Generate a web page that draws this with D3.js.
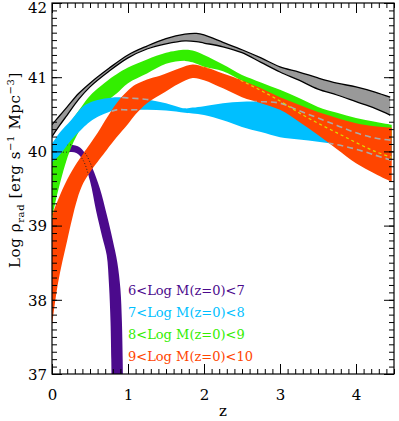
<!DOCTYPE html>
<html>
<head>
<meta charset="utf-8">
<script src="https://cdn.jsdelivr.net/npm/d3@7"></script>
<style>
  body { margin: 0; background: #fff; }
  text { font-family: "DejaVu Serif", serif; }
</style>
</head>
<body>
<div id="chart"></div>
<script>
// values (z, Log rho_rad)
const zGray  = [0, 0.1, 0.2, 0.35, 0.5, 0.75, 1.0, 1.25, 1.5, 1.75, 1.9, 2.0, 2.25, 2.5, 2.75, 3.0, 3.25, 3.5, 3.75, 4.0, 4.25, 4.45];
const grayHi = [40.36, 40.48, 40.6, 40.78, 40.92, 41.12, 41.3, 41.42, 41.52, 41.58, 41.59, 41.57, 41.47, 41.37, 41.26, 41.14, 41.07, 40.99, 40.92, 40.87, 40.8, 40.73];
const grayLo = [40.2, 40.35, 40.49, 40.7, 40.87, 41.08, 41.26, 41.38, 41.45, 41.49, 41.48, 41.46, 41.41, 41.33, 41.2, 41.07, 40.96, 40.84, 40.76, 40.67, 40.58, 40.49];

const zBand   = [0, 0.1, 0.25, 0.4, 0.5, 0.63, 0.75, 0.85, 1.0, 1.25, 1.5, 1.75, 1.85, 2.0, 2.25, 2.5, 2.75, 3.0, 3.25, 3.5, 3.75, 4.0, 4.25, 4.47];
const greenHi = [39.95, 40.15, 40.4, 40.62, 40.75, 40.87, 40.97, 41.04, 41.13, 41.24, 41.33, 41.37, 41.36, 41.3, 41.17, 41.03, 40.93, 40.83, 40.72, 40.6, 40.52, 40.45, 40.4, 40.36];
const greenLo = [39.1, 39.55, 40.05, 40.35, 40.5, 40.6, 40.7, 40.78, 40.92, 41.05, 41.18, 41.22, 41.2, 41.14, 41.08, 40.95, 40.82, 40.68, 40.52, 40.38, 40.25, 40.12, 40.0, 39.92];
const cyanHi  = [40.1, 40.25, 40.42, 40.6, 40.66, 40.7, 40.72, 40.73, 40.72, 40.7, 40.65, 40.58, 40.59, 40.61, 40.65, 40.67, 40.67, 40.65, 40.55, 40.45, 40.35, 40.25, 40.18, 40.15];
const cyanLo  = [39.85, 39.95, 40.15, 40.31, 40.4, 40.48, 40.53, 40.56, 40.56, 40.56, 40.55, 40.52, 40.51, 40.49, 40.42, 40.33, 40.26, 40.19, 40.16, 40.13, 40.09, 40.03, 39.95, 39.88];

const zOrange  = [0, 0.08, 0.2, 0.33, 0.41, 0.5, 0.63, 0.72, 0.85, 1.0, 1.1, 1.25, 1.42, 1.68, 1.85, 2.0, 2.25, 2.5, 2.75, 3.0, 3.25, 3.5, 3.75, 4.0, 4.25, 4.47];
const orangeHi = [39.15, 39.35, 39.62, 39.85, 39.97, 40.1, 40.3, 40.45, 40.65, 40.82, 40.9, 40.97, 41.02, 41.12, 41.17, 41.14, 41.05, 40.96, 40.85, 40.73, 40.63, 40.53, 40.45, 40.38, 40.34, 40.32];
const orangeLo = [37.65, 38.23, 38.8, 39.35, 39.57, 39.72, 39.9, 40.02, 40.19, 40.37, 40.5, 40.65, 40.76, 40.92, 40.99, 40.96, 40.85, 40.73, 40.65, 40.56, 40.4, 40.22, 40.03, 39.84, 39.7, 39.59];

const zPurpleHi = [0, 0.2, 0.34, 0.44, 0.53, 0.63, 0.72, 0.8, 0.86, 0.9, 0.92, 0.93, 0.935];
const purpleHi  = [40.08, 40.09, 40.07, 39.97, 39.78, 39.5, 39.15, 38.8, 38.5, 38.15, 37.7, 37.2, 36.8];
const zPurpleLo = [0, 0.2, 0.32, 0.41, 0.5, 0.58, 0.66, 0.72, 0.75, 0.77, 0.78, 0.783, 0.785];
const purpleLo  = [39.98, 39.99, 39.98, 39.88, 39.6, 39.2, 38.85, 38.6, 38.2, 37.7, 37.2, 37.0, 36.8];

const legendLabels = ['6<Log M(z=0)<7', '7<Log M(z=0)<8', '8<Log M(z=0)<9', '9<Log M(z=0)<10'];
const legendColors = ['#4b0a8c', '#00bfff', '#33ee00', '#ff4500'];
const xTicks = [0, 1, 2, 3, 4];
const yTicks = [37, 38, 39, 40, 41, 42];

const width = 399, height = 421;
const margin = {left: 52, right: 394, top: 3, bottom: 374};

const svg = d3.select('#chart').append('svg')
  .attr('width', width)
  .attr('height', height);

const x = d3.scaleLinear().domain([0, 4.5]).range([margin.left, margin.right]);
const y = d3.scaleLinear().domain([37, 42]).range([margin.bottom, margin.top]);

const defs = svg.append('defs');
defs.append('clipPath').attr('id', 'plot')
  .append('rect')
  .attr('x', margin.left).attr('y', margin.top)
  .attr('width', margin.right - margin.left).attr('height', margin.bottom - margin.top);

const curve = d3.curveCatmullRom.alpha(0.5);

// band helpers: zs, lo, hi -> area path
function bandPath(zs, lo, hi) {
  const pts = zs.map((z, i) => ({z: z, lo: lo[i], hi: hi[i]}));
  return d3.area()
    .x(d => x(d.z))
    .y0(d => y(d.lo))
    .y1(d => y(d.hi))
    .curve(curve)(pts);
}
function edgePath(zs, vs) {
  return d3.line()
    .x((d, i) => x(zs[i]))
    .y(d => y(d))
    .curve(curve)(vs);
}

// purple has different z for each edge (it turns steep)
const purplePts = zPurpleHi.map((z, i) => ({zh: z, vh: purpleHi[i], zl: zPurpleLo[i], vl: purpleLo[i]}));
const purpleArea = d3.area()
  .x1(d => x(d.zh)).y1(d => y(d.vh))
  .x0(d => x(d.zl)).y0(d => y(d.vl))
  .curve(curve)(purplePts);

const grayArea = bandPath(zGray, grayLo, grayHi);
const greenArea = bandPath(zBand, greenLo, greenHi);
const cyanArea = bandPath(zBand, cyanLo, cyanHi);
const orangeArea = bandPath(zOrange, orangeLo, orangeHi);

defs.append('clipPath').attr('id', 'clip-orange')
  .append('path').attr('d', orangeArea);
defs.append('clipPath').attr('id', 'clip-green')
  .append('path').attr('d', greenArea);

const g = svg.append('g').attr('clip-path', 'url(#plot)');

g.append('path').attr('d', grayArea).attr('fill', '#999999');
g.append('path').attr('d', edgePath(zGray, grayHi)).attr('fill', 'none').attr('stroke', '#000').attr('stroke-width', 1.3);
g.append('path').attr('d', edgePath(zGray, grayLo)).attr('fill', 'none').attr('stroke', '#000').attr('stroke-width', 1.3);

g.append('path').attr('d', purpleArea).attr('fill', legendColors[0]);
g.append('path').attr('d', greenArea).attr('fill', legendColors[2]);

// purple edges seen through green
const pg = g.append('g').attr('clip-path', 'url(#clip-green)');
pg.append('path').attr('d', purpleArea).attr('fill', 'none')
  .attr('stroke', '#222').attr('stroke-width', 1).attr('stroke-dasharray', '1,2');

g.append('path').attr('d', cyanArea).attr('fill', legendColors[1]);
g.append('path').attr('d', orangeArea).attr('fill', legendColors[3]);

// hidden edges drawn over the orange band
const og = g.append('g').attr('clip-path', 'url(#clip-orange)');
og.append('path').attr('d', purpleArea).attr('fill', 'none')
  .attr('stroke', '#222').attr('stroke-width', 1).attr('stroke-dasharray', '1,2');
[cyanHi, cyanLo].forEach(vs => {
  og.append('path').attr('d', edgePath(zBand, vs)).attr('fill', 'none')
    .attr('stroke', '#aaaaaa').attr('stroke-width', 1.6).attr('stroke-dasharray', '6,4');
});
[greenHi, greenLo].forEach(vs => {
  og.append('path').attr('d', edgePath(zBand, vs)).attr('fill', 'none')
    .attr('stroke', '#dddd00').attr('stroke-width', 1.2).attr('stroke-dasharray', '3,3');
});

// axes, ticks inward on all four sides
const xMinor = d3.range(0, 4.51, 0.1);
const yMinor = d3.range(37, 42.01, 0.1);

function addAxis(axisFn, scale, ticks, size, tf, labels) {
  const a = axisFn(scale).tickValues(ticks).tickSizeInner(-size).tickSizeOuter(0);
  a.tickFormat(labels ? d3.format('d') : '');
  const sel = svg.append('g').attr('transform', tf).call(a);
  sel.select('.domain').remove();
  sel.selectAll('line').attr('stroke', '#000');
  return sel;
}

addAxis(d3.axisBottom, x, xMinor, 5, `translate(0,${margin.bottom})`, false);
addAxis(d3.axisTop, x, xMinor, 5, `translate(0,${margin.top})`, false);
addAxis(d3.axisLeft, y, yMinor, 5, `translate(${margin.left},0)`, false);
addAxis(d3.axisRight, y, yMinor, 5, `translate(${margin.right},0)`, false);

const xb = addAxis(d3.axisBottom, x, xTicks, 10, `translate(0,${margin.bottom})`, true);
xb.selectAll('.tick text').attr('font-size', 15).attr('fill', '#000')
  .attr('font-family', 'DejaVu Serif').attr('y', 15);
addAxis(d3.axisTop, x, xTicks, 10, `translate(0,${margin.top})`, false);
const yl = addAxis(d3.axisLeft, y, yTicks, 10, `translate(${margin.left},0)`, true);
yl.selectAll('.tick text').attr('font-size', 15).attr('fill', '#000')
  .attr('font-family', 'DejaVu Serif').attr('x', -5)
  .attr('dy', d => d === 42 ? '0.6em' : '0.35em');
addAxis(d3.axisRight, y, yTicks, 10, `translate(${margin.right},0)`, false);

svg.append('rect')
  .attr('x', margin.left).attr('y', margin.top)
  .attr('width', margin.right - margin.left).attr('height', margin.bottom - margin.top)
  .attr('fill', 'none').attr('stroke', '#000').attr('stroke-width', 1.2);

// axis titles
svg.append('text')
  .attr('x', (margin.left + margin.right) / 2).attr('y', 416)
  .attr('text-anchor', 'middle').attr('font-size', 15)
  .text('z');

const yt = svg.append('text')
  .attr('transform', 'translate(20,170) rotate(-90)')
  .attr('text-anchor', 'middle').attr('font-size', 15)
  .attr('letter-spacing', 0.6);
yt.append('tspan').text('Log ρ');
yt.append('tspan').attr('font-size', 10).attr('dy', 4).text('rad');
yt.append('tspan').attr('dy', -4).text(' [erg s');
yt.append('tspan').attr('font-size', 10).attr('dy', -6).text('−1');
yt.append('tspan').attr('dy', 6).text(' Mpc');
yt.append('tspan').attr('font-size', 10).attr('dy', -6).text('−3');
yt.append('tspan').attr('dy', 6).text(']');

// legend
svg.append('g').selectAll('text')
  .data(legendLabels)
  .join('text')
  .attr('x', 128)
  .attr('y', (d, i) => 294.5 + i * 22.2)
  .attr('font-size', 13)
  .attr('fill', (d, i) => legendColors[i])
  .text(d => d);
</script>
</body>
</html>
